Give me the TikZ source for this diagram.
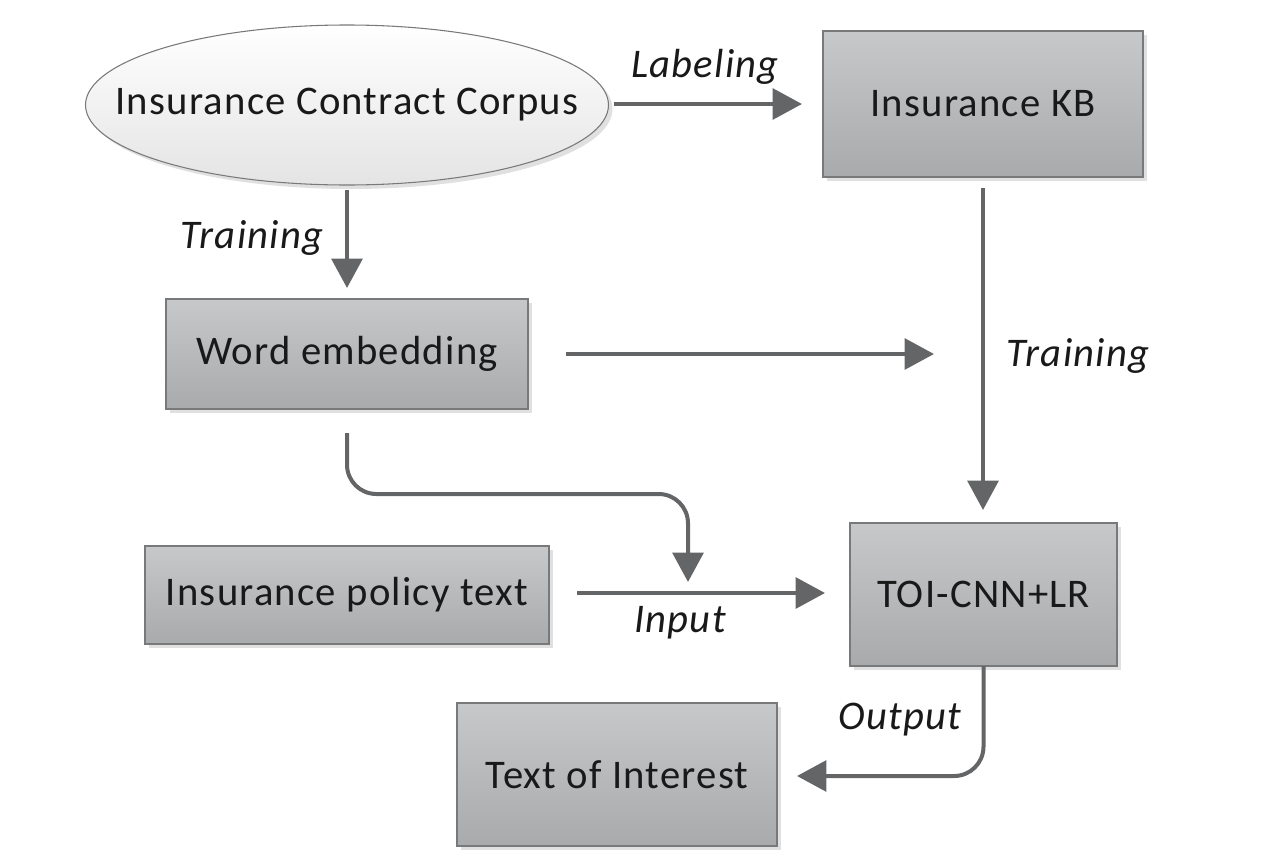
\documentclass[tikz,border=0pt]{standalone}
\usepackage{fontspec}
\setmainfont{Carlito}[LetterSpace=3]
\usetikzlibrary{shapes.geometric,arrows.meta,shadows}
\def\u{0.75pt}
\definecolor{arr}{HTML}{646567}
\definecolor{bord}{HTML}{78797B}
\definecolor{boxtop}{HTML}{C7C8CA}
\definecolor{boxbot}{HTML}{A9AAAC}
\definecolor{elbot}{HTML}{E4E4E4}
\tikzset{
  box/.style={draw=bord, line width=1.1pt, top color=boxtop, bottom color=boxbot,
    inner sep=0pt, text=black!90,
    font=\fontsize{30.5}{35}\selectfont,
    drop shadow={shadow xshift=3pt, shadow yshift=-3pt, fill=black, opacity=0.12}},
  ell/.style={ellipse, draw=bord, line width=0.8pt, top color=white, bottom color=elbot,
    inner sep=0pt, minimum width=523*\u, minimum height=160*\u,
    drop shadow={shadow xshift=3pt, shadow yshift=-3pt, fill=black, opacity=0.12}},
  elltext/.style={inner sep=0pt, text=black!90, font=\fontsize{30.5}{35}\selectfont},
  conn/.style={draw=arr, line width=3pt, rounded corners=22pt,
    -{Triangle[length=22pt,width=23pt]}},
  lbl/.style={font=\fontsize{30.5}{35}\selectfont\itshape, text=black!90, inner sep=0pt}
}
\begin{document}
\begin{tikzpicture}[x=0.75pt,y=-0.75pt]
\useasboundingbox (0,0) rectangle (1268,864);
\node[ell] (corpus) at (347,105) {};
\node[elltext] (corpustext) at (corpus.center) {Insurance Contract Corpus};
\node[box, minimum width=320*\u, minimum height=146*\u] (kb) at (983,104) {Insurance KB};
\node[box, minimum width=362*\u, minimum height=110*\u] (we) at (347,354) {Word embedding};
\node[box, minimum width=267*\u, minimum height=143*\u] (toi) at (983.5,594.5) {TOI-CNN+LR};
\node[box, minimum width=404*\u, minimum height=98*\u] (ipt) at (347,595) {Insurance policy text};
\node[box, minimum width=320*\u, minimum height=143*\u] (toi2) at (617,774.5) {Text of Interest};

\coordinate (labS) at (614,104);
\coordinate (labE) at (802,104);
\draw[conn] (labS) -- (labE);
\node[lbl] (lab1) at (705,67) {Labeling};

\coordinate (trS) at (347,190);
\coordinate (trE) at (347,288);
\draw[conn] (trS) -- (trE);
\node[lbl] (lab2) at (252,238) {Training};

\coordinate (weS) at (566,354);
\coordinate (weE) at (934,354);
\draw[conn] (weS) -- (weE);

\coordinate (kbS) at (983,188);
\coordinate (kbE) at (983,510);
\draw[conn] (kbS) -- (kbE);
\node[lbl] (lab3) at (1078,356) {Training};

\coordinate (wdS) at (347,433);
\coordinate (wdE) at (688,582);
\draw[conn] (wdS) |- (520,494) -| (wdE);

\coordinate (inS) at (577,593);
\coordinate (inE) at (825,593);
\draw[conn] (inS) -- (inE);
\node[lbl] (lab4) at (680,623) {Input};

\coordinate (outS) at (983.5,666);
\coordinate (outE) at (797,776);
\draw[conn] (outS) |- (outE);
\node[lbl] (lab5) at (900,720) {Output};
\end{tikzpicture}
\end{document}
